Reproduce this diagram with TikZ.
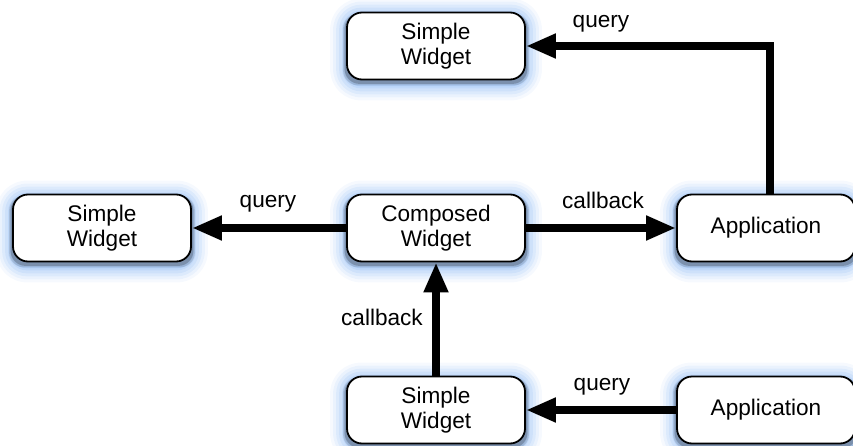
\documentclass[tikz,border=0pt]{standalone}
\usepackage{fontspec}
\setmainfont{Liberation Sans}
\usetikzlibrary{arrows.meta,backgrounds}

\definecolor{glowblue}{RGB}{100,160,240}

\tikzset{
  widget/.style={draw=black, fill=white, line width=1.8pt, rounded corners=15pt,
    minimum width=178pt, minimum height=67pt, align=center,
    font=\fontsize{22.6}{25}\selectfont, inner sep=0pt},
  flow/.style={line width=8pt, -{Triangle[length=30pt,width=23pt]}},
  lbl/.style={font=\fontsize{22.6}{25}\selectfont, anchor=base, inner sep=0pt},
}

% soft blue halo with a dark drop shadow under a box
\newcommand{\haloaround}[1]{%
  \foreach \r/\o in {16/0.06,13/0.08,10/0.10,7/0.12,4/0.14,2/0.16}{%
    \fill[glowblue, opacity=\o, rounded corners=15pt+\r pt]
      ([xshift=-\r pt, yshift=\r pt-3pt]#1.north west) rectangle
      ([xshift=\r pt, yshift=-\r pt-4pt]#1.south east);
  }
  \foreach \r/\o in {3/0.12,1.5/0.2}{%
    \fill[black, opacity=\o, rounded corners=15pt]
      ([xshift=-\r pt, yshift=-2pt]#1.north west) rectangle
      ([xshift=\r pt, yshift=-2pt-\r pt]#1.south east);
  }
}

\begin{document}
\begin{tikzpicture}[x=1pt, y=-1pt]
  \useasboundingbox (0,0) rectangle (853,446);

  \node[widget] (top)  at (436,46)  {Simple\\Widget};
  \node[widget] (left) at (102,228) {Simple\\Widget};
  \node[widget] (comp) at (436,228) {Composed\\Widget};
  \node[widget] (app)  at (766,228) {Application};
  \node[widget] (bot)  at (436,410) {Simple\\Widget};
  \node[widget] (appb) at (766,410) {Application};

  \begin{scope}[on background layer]
    \foreach \n in {top,left,comp,app,bot,appb}{\haloaround{\n}}
  \end{scope}

  \draw[flow] ([xshift=4pt]app.north) |- (top.east);
  \draw[flow] (comp.west) -- (left.east);
  \draw[flow] (comp.east) -- (app.west);
  \draw[flow] (bot.north) -- (comp.south);
  \draw[flow] (appb.west) -- (bot.east);

  \node[lbl] (q1) at (601,28)  {query};
  \node[lbl] (q2) at (268,208) {query};
  \node[lbl] (c1) at (603,209) {callback};
  \node[lbl, anchor=base east] (c2) at (423,325) {callback};
  \node[lbl] (q3) at (602,390) {query};
\end{tikzpicture}
\end{document}
